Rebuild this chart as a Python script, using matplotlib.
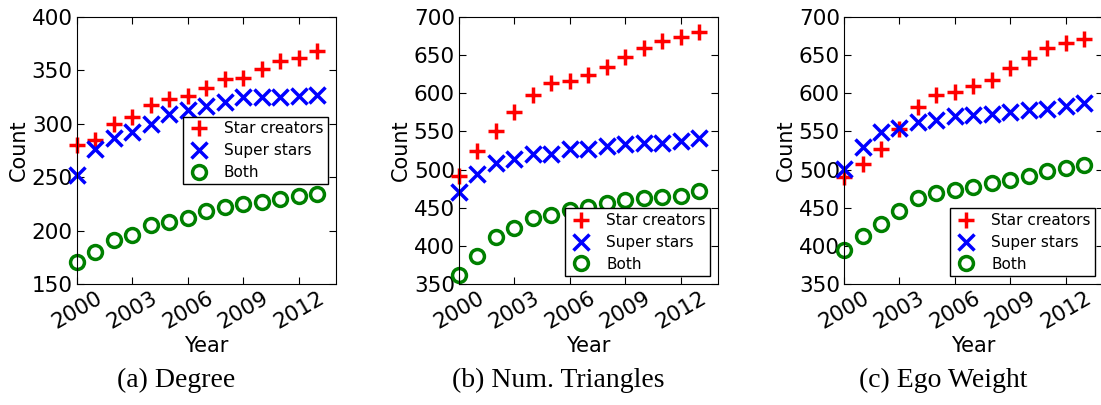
import numpy as np
import matplotlib
matplotlib.use("Agg")
import matplotlib.pyplot as plt

years = np.arange(2000, 2014)
xticks = [2000, 2003, 2006, 2009, 2012]

# (a) Degree
degree_star_creators = [280, 285, 300, 306, 318, 323, 326, 334, 342, 343, 351, 359, 362, 368]
degree_super_stars = [252, 276, 287, 292, 300, 309, 313, 317, 320, 325, 325, 325, 326, 327]
degree_both = [171, 180, 191, 196, 205, 208, 212, 218, 222, 225, 227, 230, 232, 234]

# (b) Num. Triangles
tri_star_creators = [492, 524, 550, 576, 598, 613, 616, 624, 635, 648, 660, 668, 674, 681]
tri_super_stars = [471, 494, 509, 514, 520, 521, 527, 527, 531, 533, 535, 535, 537, 541]
tri_both = [362, 387, 412, 423, 437, 441, 447, 451, 456, 460, 463, 464, 465, 472]

# (c) Ego Weight
ego_star_creators = [490, 508, 527, 553, 582, 598, 602, 610, 617, 633, 646, 659, 666, 671]
ego_super_stars = [501, 530, 549, 555, 563, 565, 570, 571, 573, 575, 578, 580, 583, 587]
ego_both = [394, 413, 429, 446, 463, 469, 473, 477, 483, 487, 492, 498, 502, 506]

panels = [
    ("(a) Degree", degree_star_creators, degree_super_stars, degree_both, (150, 400), "center right"),
    ("(b) Num. Triangles", tri_star_creators, tri_super_stars, tri_both, (350, 700), "lower right"),
    ("(c) Ego Weight", ego_star_creators, ego_super_stars, ego_both, (350, 700), "lower right"),
]

plt.rcParams.update({
    "font.family": "DejaVu Sans",
    "xtick.direction": "in",
    "ytick.direction": "in",
    "xtick.top": True,
    "ytick.right": True,
    "xtick.major.size": 5,
    "ytick.major.size": 5,
    "xtick.major.pad": 3,
    "ytick.major.pad": 3,
})

fig = plt.figure(figsize=(11.01, 4.05), dpi=100)
lefts = [0.0699, 0.4169, 0.7666]
width = 0.235
bottom = 0.2988
height = 0.659

for left, (caption, sc, ss, both, ylim, loc) in zip(lefts, panels):
    ax = fig.add_axes([left, bottom, width, height])
    ax.plot(years, sc, linestyle="none", marker="+", color="#ff0000",
            ms=12, mew=2.5, label="Star creators", clip_on=False)
    ax.plot(years, ss, linestyle="none", marker="x", color="#0000ff",
            ms=11, mew=2.5, label="Super stars", clip_on=False)
    ax.plot(years, both, linestyle="none", marker="o", color="#008000",
            mfc="none", ms=10, mew=2.5, label="Both", clip_on=False)
    ax.set_xlim(2000, 2014)
    ax.set_ylim(*ylim)
    ax.set_yticks(np.arange(ylim[0], ylim[1] + 1, 50))
    ax.set_xticks(xticks)
    ax.set_xticklabels([str(x) for x in xticks], rotation=30, ha="center")
    ax.tick_params(labelsize=15.5)
    ax.set_xlabel("Year", fontsize=15, labelpad=2)
    ax.set_ylabel("Count", fontsize=15, labelpad=2)
    leg = ax.legend(loc=loc, numpoints=1, fontsize=11, fancybox=False,
                    framealpha=1, edgecolor="black", borderaxespad=0.5,
                    handlelength=1.5, handletextpad=0.9, labelspacing=0.45,
                    borderpad=0.3)
    leg.get_frame().set_linewidth(1.0)
    fig.text(left + width / 2 - 0.027, 0.06, caption, ha="center", va="center",
             fontsize=20, family="Liberation Serif")

fig.savefig("out.png", dpi=100)
